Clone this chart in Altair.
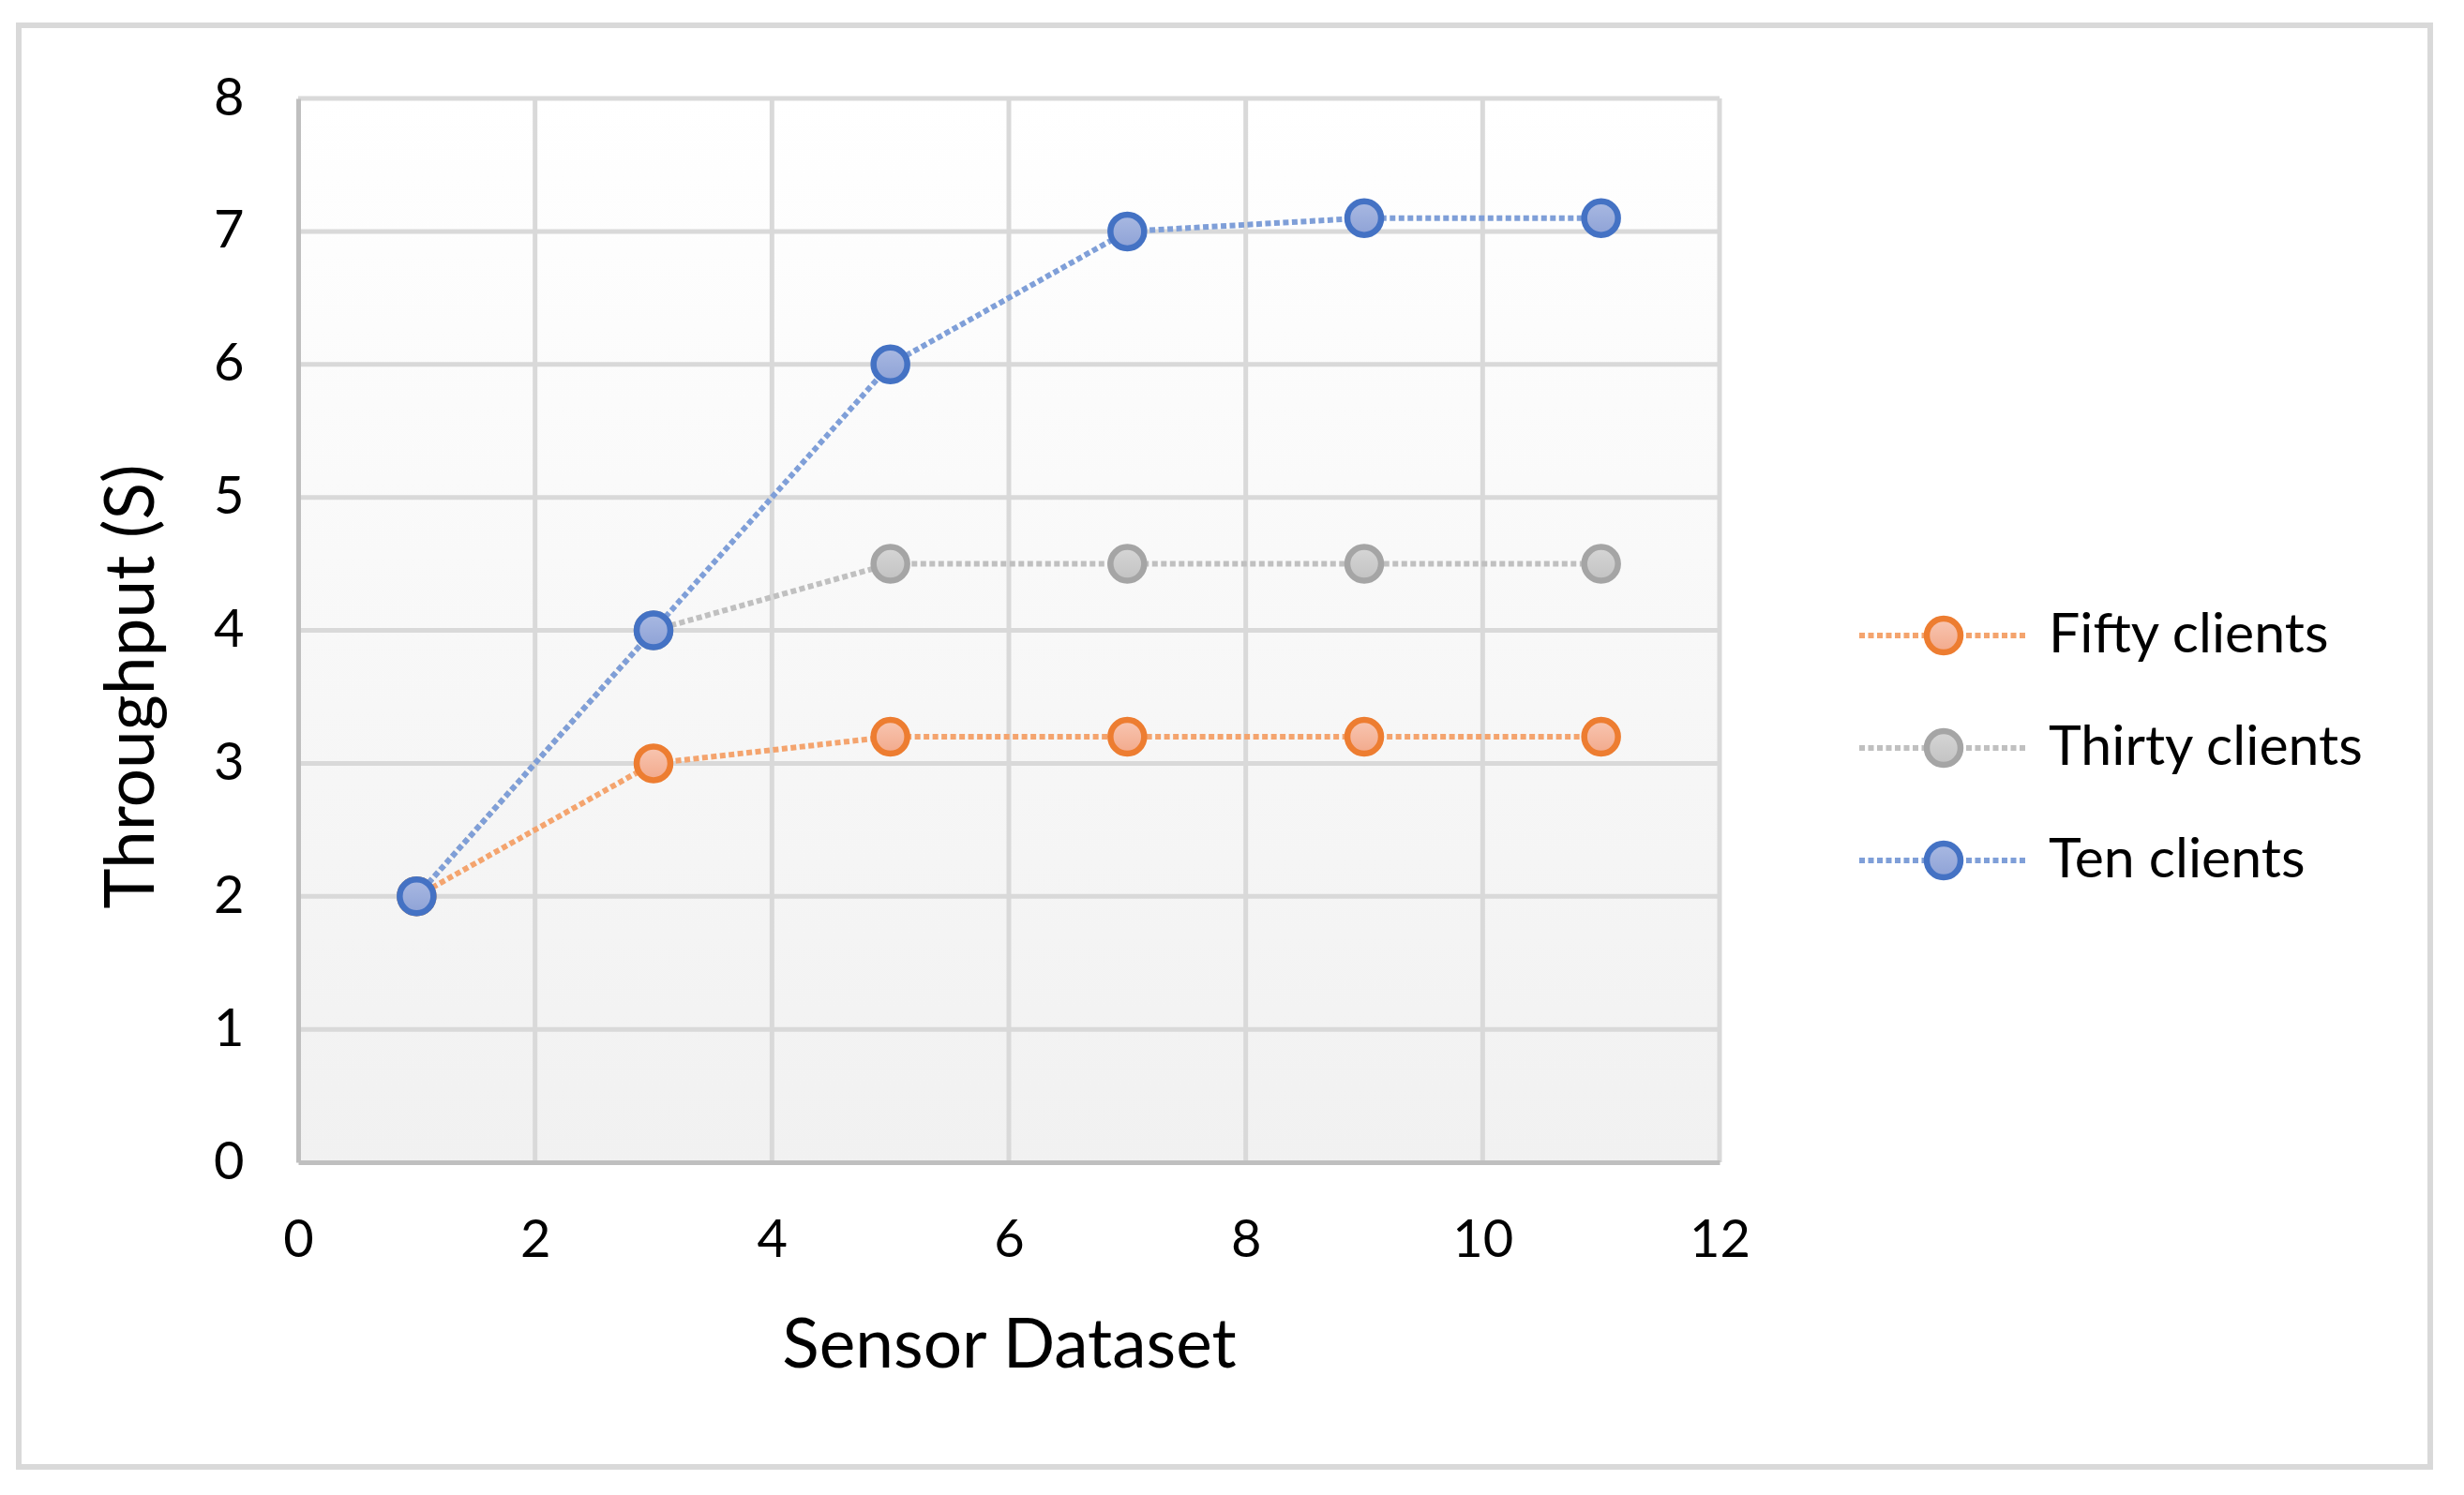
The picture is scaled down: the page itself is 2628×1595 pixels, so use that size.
import altair as alt
import pandas as pd

# ---- data ----
x_vals = [1, 3, 5, 7, 9, 11]
fifty = [2, 3, 3.2, 3.2, 3.2, 3.2]
thirty = [2, 4, 4.5, 4.5, 4.5, 4.5]
ten = [2, 4, 6, 7, 7.1, 7.1]
series_names = ["Fifty clients", "Thirty clients", "Ten clients"]
series_values = [fifty, thirty, ten]
x_ticks = [0, 2, 4, 6, 8, 10, 12]
y_ticks = [0, 1, 2, 3, 4, 5, 6, 7, 8]

# ---- styles ----
line_colors = ["#F4A46E", "#C0C0C0", "#7F9FD8"]
marker_strokes = ["#ED7D31", "#A5A5A5", "#4472C4"]
marker_fill_top = ["#F8C6B2", "#D6D6D6", "#A9B9E2"]
marker_fill_bottom = ["#F2A98B", "#C2C2C2", "#8EA2D6"]
FONT = "Lato"
W, H = 1516, 1135
MSIZE = 1296

xscale = alt.Scale(domain=[0, 12], nice=False, zero=False)
yscale = alt.Scale(domain=[0, 8], nice=False, zero=False)

x_axis = alt.Axis(
    values=x_ticks, grid=False, ticks=False, tickSize=0, domainColor="#BFBFBF",
    domainWidth=5, labelFont=FONT, labelFontSize=56, labelColor="#000000",
    labelPadding=56, labelFlush=False, labelOverlap=False, zindex=1,
    title="Sensor Dataset", titleFont=FONT, titleFontSize=73, titleFontWeight="normal",
    titleColor="#000000", titleBaseline="alphabetic", titleX=W / 2, titleY=218,
    titleAlign="center",
)
y_axis = alt.Axis(
    values=y_ticks, grid=False, ticks=False, tickSize=0, domainColor="#BFBFBF",
    domainWidth=5, labelFont=FONT, labelFontSize=56, labelColor="#000000",
    labelPadding=58, labelFlush=False, labelOverlap=False, zindex=1,
    title="Throughput (S)", titleFont=FONT, titleFontSize=73, titleFontWeight="normal",
    titleColor="#000000", titleBaseline="alphabetic", titleX=-155, titleY=627,
    titleAlign="center", titleAngle=270,
)


def gradient(top, bottom):
    return alt.Gradient(
        gradient="linear",
        stops=[alt.GradientStop(color=top, offset=0), alt.GradientStop(color=bottom, offset=1)],
        x1=0, x2=0, y1=0, y2=1,
    )


one = pd.DataFrame({"a": [0]})

frame = alt.Chart(one).mark_rect(filled=False, stroke="#D9D9D9", strokeWidth=6).encode(
    x=alt.value(-298), x2=alt.value(2274), y=alt.value(-78), y2=alt.value(1460)
)
bg = alt.Chart(one).mark_rect(fill=gradient("#FFFFFF", "#F1F1F1")).encode(
    x=alt.value(0), x2=alt.value(W), y=alt.value(0), y2=alt.value(H)
)

vgrid = alt.Chart(pd.DataFrame({"x": x_ticks[1:]})).mark_rule(color="#D9D9D9", strokeWidth=5).encode(
    x=alt.X("x:Q", scale=xscale, axis=x_axis)
)
hgrid = alt.Chart(pd.DataFrame({"y": y_ticks[1:]})).mark_rule(color="#D9D9D9", strokeWidth=5).encode(
    y=alt.Y("y:Q", scale=yscale, axis=y_axis)
)

layers = [bg, vgrid, hgrid]
for i, name in enumerate(series_names):
    df = pd.DataFrame({"x": x_vals, "y": series_values[i], "series": name})
    base = alt.Chart(df).encode(
        x=alt.X("x:Q", scale=xscale, axis=x_axis),
        y=alt.Y("y:Q", scale=yscale, axis=y_axis),
    )
    layers.append(
        base.mark_line(color=line_colors[i], strokeWidth=6, strokeDash=[6, 3.5], strokeCap="butt")
    )
    layers.append(
        base.mark_point(
            shape="circle", filled=True, size=MSIZE, opacity=1,
            fill=gradient(marker_fill_top[i], marker_fill_bottom[i]),
            stroke=marker_strokes[i], strokeWidth=6.5,
        )
    )

main = alt.layer(*layers)

leg_scale = alt.Scale(type="point", domain=series_names, range=[573, 813], padding=0)
leg_layers = []
for i, name in enumerate(series_names):
    d = pd.DataFrame({"series": [name]})
    b = alt.Chart(d)
    yenc = alt.Y("series:N", scale=leg_scale, axis=None)
    leg_layers.append(
        b.mark_rule(color=line_colors[i], strokeWidth=6, strokeDash=[6, 3.5], strokeCap="butt").encode(
            x=alt.value(1665), x2=alt.value(1844), y=yenc
        )
    )
    leg_layers.append(
        b.mark_point(
            shape="circle", filled=True, size=MSIZE, opacity=1,
            fill=gradient(marker_fill_top[i], marker_fill_bottom[i]),
            stroke=marker_strokes[i], strokeWidth=6.5,
        ).encode(x=alt.value(1755), y=yenc)
    )
    leg_layers.append(
        b.mark_text(align="left", baseline="middle", font=FONT, fontSize=59, color="#000000").encode(
            x=alt.value(1867), y=yenc, text="series:N"
        )
    )
legend = alt.layer(*leg_layers)

chart = (
    alt.layer(frame, main, legend)
    .resolve_scale(y="independent")
    .properties(
        width=W, height=H,
        padding={"left": 310, "top": 97, "right": 780, "bottom": 340},
        autosize=alt.AutoSizeParams(type="none"),
        background="#FFFFFF",
    )
    .configure_view(strokeWidth=0)
)

chart.save("out.html", embed_options={"renderer": "svg", "actions": False})
